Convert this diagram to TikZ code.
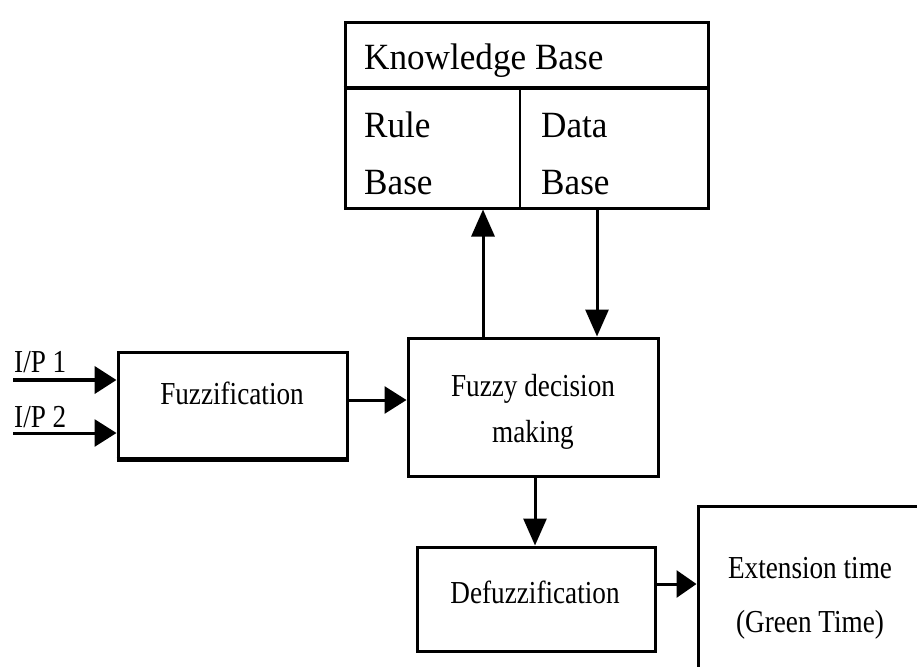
\documentclass[tikz,border=0pt]{standalone}
\usepackage{fontspec}
\usepackage{graphicx}
\setmainfont{Liberation Serif}
\usetikzlibrary{arrows.meta}
\newcommand\sqz[1]{\scalebox{0.85}[1]{#1}}
\newcommand\sqk[1]{\scalebox{0.95}[1]{#1}}
\tikzset{
  blockbox/.style={draw=black, line width=3pt, rectangle, inner sep=0pt},
  smalltext/.style={font=\fontsize{32}{36}\selectfont, inner sep=0pt, anchor=base},
  kbtext/.style={font=\fontsize{37}{40}\selectfont, inner sep=0pt, anchor=base west},
  conn/.style={line width=3pt, -{Triangle[length=27pt,width=23pt]}},
}
\begin{document}
\begin{tikzpicture}[x=1pt,y=-1pt]
\useasboundingbox (0,0) rectangle (917,666);
\clip (0,0) rectangle (917,666);
\fill[white] (0,0) rectangle (917,666);

% Knowledge base
\node[blockbox, minimum width=363pt, minimum height=185pt] (kb) at (526.5,115.5) {};
\draw[line width=3.5pt] (kb.west |- 0,88) -- (kb.east |- 0,88);
\draw[line width=2.4pt] (520,88) -- (520,208);
\node[kbtext] (kbt) at (364,70) {\sqk{Knowledge Base}};
\node[kbtext] (rule1) at (364,137) {\sqk{Rule}};
\node[kbtext] (rule2) at (364,194) {\sqk{Base}};
\node[kbtext] (data1) at (541,137) {\sqk{Data}};
\node[kbtext] (data2) at (541,194) {\sqk{Base}};

% Fuzzy decision making
\node[blockbox, minimum width=250pt, minimum height=138pt] (fdm) at (533,407) {};
\node[smalltext] (fdm1) at (533,396) {\sqz{Fuzzy decision}};
\node[smalltext] (fdm2) at (533,442) {\sqz{making}};

% Fuzzification
\node[blockbox, minimum width=229pt, minimum height=106pt] (fuzz) at (232.5,405) {};
\draw[line width=4.5pt] (fuzz.south west) -- (fuzz.south east);
\node[smalltext] (fuzzt) at (232,404) {\sqz{Fuzzification}};

% Defuzzification
\node[blockbox, minimum width=238pt, minimum height=104pt] (defuzz) at (536,599) {};
\node[smalltext] (defuzzt) at (535,603) {\sqz{Defuzzification}};

% Extension time (cut by the picture edge)
\node[blockbox, minimum width=242pt, minimum height=184pt] (ext) at (819,598) {};
\node[smalltext] (ext1) at (810,578) {\sqz{Extension time}};
\node[smalltext] (ext2) at (810,632) {\sqz{(Green Time)}};

% Inputs
\coordinate (in1) at (13,380);
\coordinate (in2) at (13,433);
\node[smalltext, anchor=base west] (ip1) at (14,372) {\sqz{I/P 1}};
\node[smalltext, anchor=base west] (ip2) at (14,427) {\sqz{I/P 2}};
\draw[conn, line width=4.2pt, -{Triangle[length=22pt,width=27pt]}] (in1) -- (in1 -| fuzz.west);
\draw[conn, -{Triangle[length=22pt,width=27pt]}] (in2) -- (in2 -| fuzz.west);

% Connectors
\draw[conn, -{Triangle[length=22pt,width=27pt]}] ([yshift=5pt]fuzz.east) -- ([yshift=5pt]fuzz.east -| fdm.west);
\draw[conn] ([xshift=-50pt]fdm.north) -- ([xshift=-50pt]fdm.north |- kb.south);
\draw[conn] ([xshift=64pt]fdm.north |- kb.south) -- ([xshift=64pt]fdm.north);
\draw[conn] ([xshift=2pt]fdm.south) -- ([xshift=2pt]fdm.south |- defuzz.north);
\draw[conn, -{Triangle[length=20pt,width=27pt]}] ([yshift=15pt]defuzz.east) -- ([yshift=15pt]defuzz.east -| ext.west);
\end{tikzpicture}
\end{document}
